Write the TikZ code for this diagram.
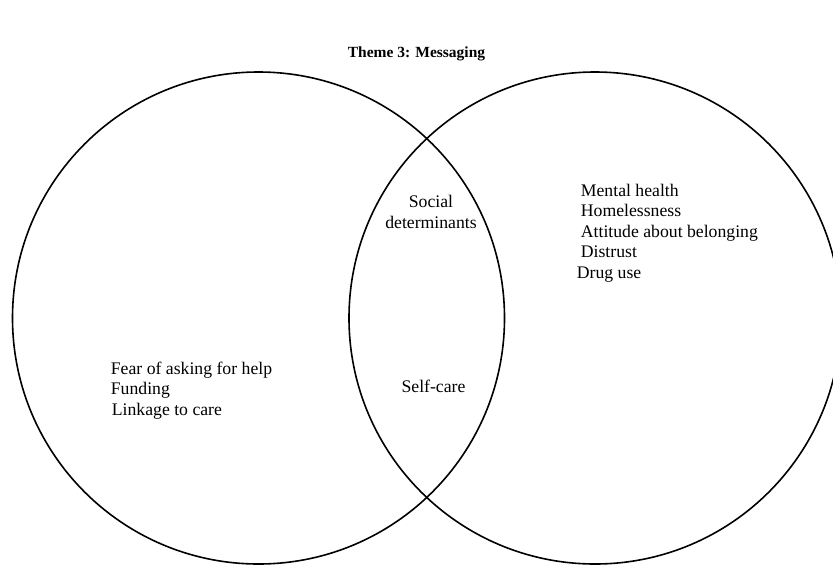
\documentclass[tikz,border=0pt]{standalone}
\usepackage{fontspec}
\setmainfont{Liberation Serif}
\begin{document}
\begin{tikzpicture}[x=1pt,y=-1pt,
  venn/.style={draw=black,line width=1.6pt,circle,minimum size=492pt,inner sep=0pt},
  body/.style={inner sep=0pt,font=\fontsize{17.7}{20.5}\selectfont},
  lbl/.style={body,anchor=base west},
  ctr/.style={body,anchor=base},
  ttl/.style={inner sep=0pt,anchor=base,font=\fontsize{15.5}{18}\selectfont\bfseries}]
\clip (0,0) rectangle (833,566);
\fill[white] (0,0) rectangle (833,566);
\node[ttl] (title) at (416.5,57) {Theme 3: Messaging};
\node[venn] (L) at (258.5,318) {};
\node[venn] (R) at (595,318) {};
% intersection
\node[ctr] (soc1) at (431,207) {Social};
\node[ctr] (soc2) at (431,228) {determinants};
\node[ctr] (self) at (433.5,392) {Self-care};
% left
\node[lbl] (l1) at (110.7,374) {Fear of asking for help};
\node[lbl] (l2) at (110.7,394.5) {Funding};
\node[lbl] (l3) at (111.7,415) {Linkage to care};
% right
\node[lbl] (r1) at (580.7,196) {Mental health};
\node[lbl] (r2) at (580.7,216.5) {Homelessness};
\node[lbl] (r3) at (580.7,237) {Attitude about belonging};
\node[lbl] (r4) at (580.7,257.5) {Distrust};
\node[lbl] (r5) at (576.7,278) {Drug use};
\end{tikzpicture}
\end{document}
